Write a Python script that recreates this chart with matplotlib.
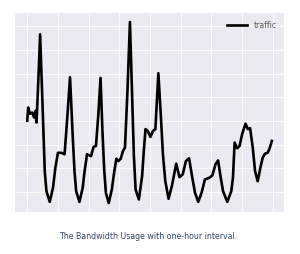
import matplotlib
matplotlib.use("Agg")
import matplotlib.pyplot as plt
from matplotlib.ticker import MultipleLocator

# hourly bandwidth usage (hours since start, traffic in arbitrary units)
hours = [0, 0.81, 2.18, 4.03, 5.65, 6.77, 7.58, 9.03, 10.48, 12.9, 14.27, 15.65,
         18.31, 20.97, 22.9, 25.0, 27.74, 30.4, 32.42, 34.84, 37.1, 38.47, 39.84,
         42.5, 45.16, 46.53, 48.71, 51.94, 54.03, 55.97, 57.82, 59.68, 61.29,
         62.66, 64.03, 66.37, 68.87, 70.73, 72.58, 74.19, 76.13, 77.98, 79.6,
         81.61, 83.63, 85.48, 86.85, 88.23, 90.89, 93.55, 94.92, 96.29, 98.15,
         100.32, 102.42, 104.35, 106.77, 108.87, 110.48, 112.42, 115.08, 117.74,
         121.29, 123.95, 126.61, 129.19, 131.77, 134.44, 136.61, 139.27, 141.94,
         144.68, 148.15, 150.81, 153.23, 155.4, 157.58, 159.44, 162.9, 166.13,
         167.5, 168.87, 170.97, 172.9, 175.0, 177.74, 179.6, 181.45, 183.63,
         185.48, 187.66, 189.84, 191.69, 193.55, 195.73, 197.1, 199.19]
traffic = [4.01, 4.57, 4.31, 4.36, 4.15, 4.43, 3.94, 5.71, 7.66, 4.01, 1.89, 1.04,
           0.59, 1.18, 2.03, 2.66, 2.66, 2.60, 4.01, 5.85, 3.30, 1.89, 1.04,
           0.59, 1.18, 1.82, 2.60, 2.52, 2.91, 2.95, 4.22, 5.82, 3.51,
           1.96, 0.97, 0.54, 1.11, 1.82, 2.41, 2.31, 2.41, 2.74, 2.88,
           5.28, 8.18, 4.93, 2.52, 1.11, 0.69, 1.68, 2.74, 3.66, 3.58,
           3.33, 3.58, 3.66, 6.02, 4.15, 2.60, 1.46, 0.72, 1.25,
           2.20, 1.63, 1.75, 2.31, 2.43, 1.60, 0.97, 0.59, 0.97,
           1.54, 1.60, 1.71, 2.17, 2.34, 1.60, 1.04, 0.59, 1.04,
           1.60, 3.09, 2.85, 2.95, 3.45, 3.89, 3.66, 3.70, 2.88,
           1.89, 1.46, 2.03, 2.45, 2.62, 2.66, 2.81, 3.16]

fig = plt.figure(figsize=(3.0, 2.54), dpi=100)
ax = fig.add_axes([0.05, 0.165, 0.897, 0.784])
ax.set_facecolor("#EAEAF2")
ax.plot(hours, traffic, color="black", lw=1.9, label="traffic")

ax.xaxis.set_major_locator(MultipleLocator(25))
ax.yaxis.set_major_locator(MultipleLocator(1))
ax.grid(True, color="white", lw=0.6)
ax.set_axisbelow(True)
ax.tick_params(length=0, labelbottom=False, labelleft=False)
for s in ax.spines.values():
    s.set_visible(False)

leg = ax.legend(loc="upper right", frameon=False, fontsize=5.5,
                handlelength=2.6, borderaxespad=0.6)
for t in leg.get_texts():
    t.set_color("#555555")

fig.text(0.495, 0.067, "The Bandwidth Usage with one-hour interval.",
         ha="center", va="center", fontsize=5.7, color="#34466a")

fig.savefig("out.png", dpi=100)
